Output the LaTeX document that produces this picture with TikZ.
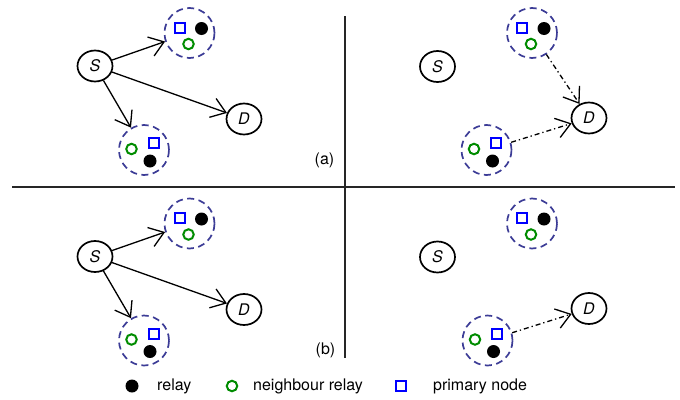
\documentclass[tikz,border=0pt]{standalone}
\usepackage{fontspec}
\setmainfont{TeX Gyre Heros}
\usetikzlibrary{arrows.meta,shapes.geometric}
\definecolor{clus}{RGB}{60,60,150}
\definecolor{ngreen}{RGB}{0,140,0}
\tikzset{
 term/.style={ellipse,draw,line width=1.7pt,minimum width=35pt,minimum height=31pt,inner sep=0pt,font=\fontsize{16}{18}\selectfont\itshape},
 cluster/.style={circle,draw=clus,line width=1.7pt,dash pattern=on 7pt off 4.5pt,minimum size=50pt,inner sep=0pt},
 relay/.style={circle,fill=black,minimum size=13pt,inner sep=0pt},
 nrelay/.style={circle,draw=ngreen,line width=2pt,minimum size=10.5pt,inner sep=0pt},
 prim/.style={rectangle,draw=blue,line width=2pt,minimum size=10pt,inner sep=0pt},
 conn/.style={-{Straight Barb[length=14pt,width=20pt]},line width=1.3pt},
 dconn/.style={conn,dash pattern=on 5pt off 3pt on 1.3pt off 3pt},
 lbl/.style={font=\fontsize{16}{18}\selectfont,inner sep=0pt},
 divider/.style={line width=1.8pt,black!85},
 clup/.pic={
   \node[cluster] (-c) at (0,0) {};
   \node[prim] (-p) at (-10,-5.5) {};
   \node[relay] (-r) at (12,-4.5) {};
   \node[nrelay] (-n) at (-1,11) {};
 },
 cllow/.pic={
   \node[cluster] (-c) at (0,0) {};
   \node[nrelay] (-n) at (-12.5,-1) {};
   \node[prim] (-p) at (9.5,-7) {};
   \node[relay] (-r) at (6,11) {};
 },
}
\begin{document}
\begin{tikzpicture}[x=1pt,y=-1pt]
\useasboundingbox (0,0) rectangle (680,399);
% dividers
\coordinate (vt) at (345,16);
\coordinate (vb) at (345,358);
\coordinate (hl) at (12,187);
\coordinate (hr) at (675,187);
\draw[divider] (vt) -- (vb);
\draw[divider] (hl) -- (hr);
% panel top-left
\node[term] (s1) at (95,66) {S};
\node[term] (d1) at (244,119) {D};
\pic (u1) at (189.5,33) {clup};
\pic (l1) at (144,150) {cllow};
\draw[conn] (s1) -- (u1-c);
\draw[conn] (s1) -- (d1);
\draw[conn] (s1) -- (l1-c);
\node[lbl] (la) at (324.5,160) {(a)};
% panel top-right
\node[term] (s2) at (437.5,66.5) {S};
\node[term] (d2) at (589,118) {D};
\pic (u2) at (532,33) {clup};
\pic (l2) at (486.5,150) {cllow};
\draw[dconn] (u2-c) -- (d2);
\draw[dconn] (l2-c) -- (d2);
% panel bottom-left
\node[term] (s3) at (95,256.5) {S};
\node[term] (d3) at (244,309.5) {D};
\pic (u3) at (189.5,223.5) {clup};
\pic (l3) at (144,340.5) {cllow};
\draw[conn] (s3) -- (u3-c);
\draw[conn] (s3) -- (d3);
\draw[conn] (s3) -- (l3-c);
\node[lbl] (lb) at (325.5,350) {(b)};
% panel bottom-right
\node[term] (s4) at (437.5,257) {S};
\node[term] (d4) at (589,308.5) {D};
\pic (u4) at (532,223.5) {clup};
\pic (l4) at (487.5,340.5) {cllow};
\draw[dconn] (l4-c) -- (d4);
% legend
\node[relay] (kr) at (132,386) {};
\node[lbl,anchor=west] (kt1) at (157,386) {relay};
\node[nrelay] (kn) at (232,386) {};
\node[lbl,anchor=west] (kt2) at (253,386) {neighbour relay};
\node[prim] (kp) at (401,386) {};
\node[lbl,anchor=west] (kt3) at (433,386) {primary node};
\end{tikzpicture}
\end{document}
